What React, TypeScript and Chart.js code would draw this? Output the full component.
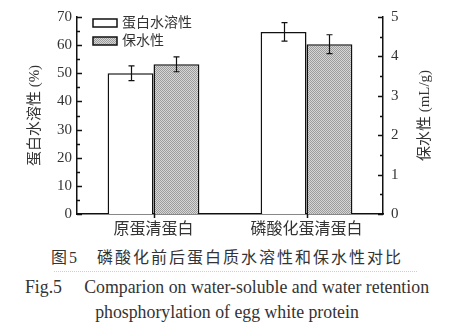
import React, { useEffect, useRef } from "react";
import { Chart, registerables } from "chart.js";

Chart.register(...registerables);

// ---- data ----
const categories = ["原蛋清蛋白", "磷酸化蛋清蛋白"];
const seriesNames = ["蛋白水溶性", "保水性"];
const solubility = [50.0, 64.7]; // %
const solubilityErr = [2.6, 3.3];
const retention = [3.8, 4.31]; // mL/g
const retentionErr = [0.19, 0.24];
const leftRange = [0, 70];
const leftStep = 10;
const rightRange = [0, 5];
const rightStep = 1;
const leftTitle = "蛋白水溶性 (%)";
const rightTitle = "保水性 (mL/g)";
const captionCn = "图5\u2003磷酸化前后蛋白质水溶性和保水性对比";
const captionEn1 = "Fig.5\u2003 Comparion on water-soluble and water retention";
const captionEn2 = "phosphorylation of egg white protein";

const FONT = "'Liberation Serif', 'Noto Sans CJK SC', serif";
const TEXT = "#333";
const AXIS = "#111";

function makePattern(): CanvasPattern | string {
  const c = document.createElement("canvas");
  c.width = 2;
  c.height = 2;
  const g = c.getContext("2d");
  if (!g) return "#bbb";
  g.fillStyle = "#d6d6d6";
  g.fillRect(0, 0, 2, 2);
  g.fillStyle = "#9c9c9c";
  g.fillRect(0, 0, 1, 1);
  g.fillRect(1, 1, 1, 1);
  const p = g.createPattern(c, "repeat");
  return p || "#bbb";
}

const decorPlugin = {
  id: "decor",
  afterDatasetsDraw(chart: any) {
    const ctx = chart.ctx as CanvasRenderingContext2D;
    const errs = [solubilityErr, retentionErr];
    const vals = [solubility, retention];
    ctx.save();
    ctx.strokeStyle = AXIS;
    ctx.lineWidth = 1.2;
    chart.data.datasets.forEach((ds: any, i: number) => {
      const meta = chart.getDatasetMeta(i);
      const sc = chart.scales[ds.yAxisID];
      meta.data.forEach((el: any, j: number) => {
        const x = Math.round(el.x) + 0.5;
        const t = sc.getPixelForValue(vals[i][j] + errs[i][j]);
        const b = sc.getPixelForValue(vals[i][j] - errs[i][j]);
        ctx.beginPath();
        ctx.moveTo(x, t);
        ctx.lineTo(x, b);
        ctx.moveTo(x - 3, t);
        ctx.lineTo(x + 3, t);
        ctx.moveTo(x - 3, b);
        ctx.lineTo(x + 3, b);
        ctx.stroke();
      });
    });
    ctx.restore();
  },
  afterDraw(chart: any) {
    const ctx = chart.ctx as CanvasRenderingContext2D;
    const area = chart.chartArea;
    const y = chart.scales.y;
    const y1 = chart.scales.y1;
    const x = chart.scales.x;
    ctx.save();
    ctx.strokeStyle = AXIS;
    ctx.lineWidth = 1.5;
    // left axis inward ticks
    for (let v = leftRange[0]; v <= leftRange[1] + 1e-9; v += leftStep / 2) {
      const py = Math.round(y.getPixelForValue(v)) + 0.5;
      const major = Math.abs(v / leftStep - Math.round(v / leftStep)) < 1e-6;
      ctx.beginPath();
      ctx.moveTo(area.left, py);
      ctx.lineTo(area.left + (major ? 5 : 3), py);
      ctx.stroke();
    }
    // right axis inward ticks
    for (let v = rightRange[0]; v <= rightRange[1] + 1e-9; v += rightStep / 2) {
      const py = Math.round(y1.getPixelForValue(v)) + 0.5;
      const major = Math.abs(v / rightStep - Math.round(v / rightStep)) < 1e-6;
      ctx.beginPath();
      ctx.moveTo(area.right, py);
      ctx.lineTo(area.right - (major ? 5 : 3), py);
      ctx.stroke();
    }
    // bottom ticks at category centers
    categories.forEach((_, i) => {
      const px = Math.round(x.getPixelForValue(i)) + 0.5;
      ctx.beginPath();
      ctx.moveTo(px, area.bottom);
      ctx.lineTo(px, area.bottom + 4);
      ctx.stroke();
    });
    // right axis title (reads bottom to top)
    ctx.fillStyle = TEXT;
    ctx.font = `15px ${FONT}`;
    ctx.textAlign = "center";
    ctx.textBaseline = "middle";
    ctx.translate(425, (area.top + area.bottom) / 2);
    ctx.rotate(-Math.PI / 2);
    ctx.fillText(rightTitle, 0, 0);
    ctx.restore();

    // legend
    ctx.save();
    const lx = area.left + 16;
    const rows = [area.top + 2, area.top + 20];
    chart.data.datasets.forEach((ds: any, i: number) => {
      const ty = rows[i];
      ctx.fillStyle = ds.backgroundColor;
      ctx.fillRect(lx, ty, 24, 8);
      ctx.strokeStyle = AXIS;
      ctx.lineWidth = 1.5;
      ctx.strokeRect(lx, ty, 24, 8);
      ctx.fillStyle = TEXT;
      ctx.font = `14px ${FONT}`;
      ctx.textAlign = "left";
      ctx.textBaseline = "middle";
      ctx.fillText(ds.label, lx + 29, ty + 4);
    });
    ctx.restore();
  },
};

export default function App() {
  const ref = useRef<HTMLCanvasElement | null>(null);

  useEffect(() => {
    if (!ref.current) return;
    const pattern = makePattern();
    const chart = new Chart(ref.current, {
      type: "bar",
      data: {
        labels: categories,
        datasets: [
          {
            label: seriesNames[0],
            data: solubility,
            yAxisID: "y",
            backgroundColor: "#ffffff",
            borderColor: AXIS,
            borderWidth: 1.5,
          },
          {
            label: seriesNames[1],
            data: retention,
            yAxisID: "y1",
            backgroundColor: pattern as any,
            borderColor: AXIS,
            borderWidth: 1.5,
          },
        ],
      },
      options: {
        responsive: false,
        animation: false,
        devicePixelRatio: 1,
        layout: { padding: { top: 17, left: 0, right: 0, bottom: 0 } },
        datasets: { bar: { barPercentage: 1, categoryPercentage: 0.6 } },
        plugins: {
          legend: { display: false },
          tooltip: { enabled: false },
        },
        scales: {
          x: {
            grid: { display: false, drawTicks: false },
            border: { display: true, color: AXIS, width: 1.5 },
            ticks: { color: TEXT, font: { family: FONT, size: 16 }, padding: 6 },
            afterFit: (s: any) => {
              s.height = 26;
            },
          },
          y: {
            position: "left",
            min: leftRange[0],
            max: leftRange[1],
            grid: { display: false, drawTicks: false },
            border: { display: true, color: AXIS, width: 1.5 },
            ticks: { stepSize: leftStep, color: TEXT, font: { family: FONT, size: 15 }, padding: 5 },
            title: {
              display: true,
              text: leftTitle,
              color: TEXT,
              font: { family: FONT, size: 15 },
              padding: { top: 26, bottom: 0 },
            },
            afterFit: (s: any) => {
              s.width = 77;
            },
          },
          y1: {
            position: "right",
            min: rightRange[0],
            max: rightRange[1],
            grid: { display: false, drawTicks: false },
            border: { display: true, color: AXIS, width: 1.5 },
            ticks: { stepSize: rightStep, color: TEXT, font: { family: FONT, size: 15 }, padding: 8 },
            afterFit: (s: any) => {
              s.width = 71;
            },
          },
        },
      },
      plugins: [decorPlugin],
    });
    return () => chart.destroy();
  }, []);

  const cap: React.CSSProperties = {
    position: "absolute",
    left: 0,
    width: 454,
    textAlign: "center",
    color: TEXT,
    fontFamily: FONT,
    whiteSpace: "nowrap",
  };

  return (
    <div style={{ position: "fixed", left: 0, top: 0, width: 454, height: 336, background: "#fff", overflow: "hidden" }}>
      <canvas ref={ref} width={454} height={240} style={{ position: "absolute", left: 0, top: 0 }} />
      <div style={{ ...cap, top: 248, fontSize: 16, lineHeight: "20px", letterSpacing: "2px" }}>{captionCn}</div>
      <div style={{ position: "absolute", left: 54, top: 271, width: 363, borderTop: "1px dotted #d0d0d0" }} />
      <div style={{ ...cap, top: 276, fontSize: 17.8, lineHeight: "22px" }}>{captionEn1}</div>
      <div style={{ ...cap, top: 301, fontSize: 17.8, lineHeight: "22px" }}>{captionEn2}</div>
    </div>
  );
}
